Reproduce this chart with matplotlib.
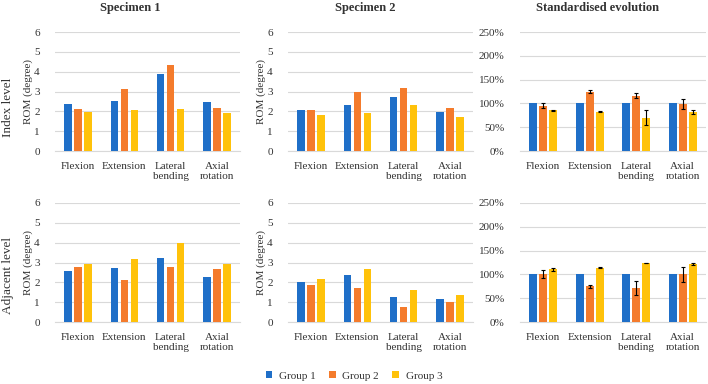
import matplotlib
matplotlib.use("Agg")
import matplotlib.pyplot as plt
import numpy as np
from matplotlib.patches import Patch
from matplotlib.ticker import FuncFormatter

plt.rcParams['font.family'] = ['Liberation Serif', 'DejaVu Serif']

categories = ["Flexion", "Extension", "Lateral\nbending", "Axial\nrotation"]
groups = ["Group 1", "Group 2", "Group 3"]
colors = ["#1F6FC8", "#F47B2C", "#FFC20A"]

# Specimen 1 - index level
s1_index_g1 = [2.35, 2.54, 3.88, 2.46]
s1_index_g2 = [2.13, 3.13, 4.34, 2.19]
s1_index_g3 = [1.98, 2.07, 2.12, 1.93]
# Specimen 2 - index level
s2_index_g1 = [2.05, 2.30, 2.70, 1.95]
s2_index_g2 = [2.05, 2.97, 3.20, 2.15]
s2_index_g3 = [1.80, 1.90, 2.30, 1.70]
# Standardised - index level
std_index_g1 = [1.00, 1.00, 1.00, 1.00]
std_index_g2 = [0.95, 1.25, 1.16, 0.99]
std_index_g3 = [0.86, 0.82, 0.70, 0.82]
err_index_g2 = [0.05, 0.03, 0.05, 0.11]
err_index_g3 = [0.01, 0.01, 0.16, 0.04]

# Specimen 1 - adjacent level
s1_adj_g1 = [2.56, 2.73, 3.23, 2.29]
s1_adj_g2 = [2.76, 2.13, 2.78, 2.68]
s1_adj_g3 = [2.91, 3.17, 3.98, 2.91]
# Specimen 2 - adjacent level
s2_adj_g1 = [2.00, 2.35, 1.25, 1.15]
s2_adj_g2 = [1.88, 1.72, 0.75, 1.00]
s2_adj_g3 = [2.15, 2.68, 1.60, 1.38]
# Standardised - adjacent level
std_adj_g1 = [1.00, 1.00, 1.00, 1.00]
std_adj_g2 = [1.01, 0.75, 0.71, 1.00]
std_adj_g3 = [1.11, 1.14, 1.24, 1.22]
err_adj_g2 = [0.08, 0.03, 0.15, 0.15]
err_adj_g3 = [0.03, 0.01, 0.01, 0.03]

titles = ["Specimen 1", "Specimen 2", "Standardised evolution"]
row_labels = ["Index level", "Adjacent level"]

W, H = 708, 384
fig = plt.figure(figsize=(W / 100, H / 100), dpi=100)

lefts = [55, 288, 520]
widths = [185, 185, 186]
tops = [32, 203]
axh = 119

data = [
    [(s1_index_g1, s1_index_g2, s1_index_g3, None),
     (s2_index_g1, s2_index_g2, s2_index_g3, None),
     (std_index_g1, std_index_g2, std_index_g3, (err_index_g2, err_index_g3))],
    [(s1_adj_g1, s1_adj_g2, s1_adj_g3, None),
     (s2_adj_g1, s2_adj_g2, s2_adj_g3, None),
     (std_adj_g1, std_adj_g2, std_adj_g3, (err_adj_g2, err_adj_g3))],
]

x = np.arange(len(categories))
step = 0.216
bw = 0.167
grid_col = "#D9D9D9"
text_col = "#333333"

for r in range(2):
    for c in range(3):
        l, w = lefts[c], widths[c]
        t = tops[r]
        ax = fig.add_axes([l / W, 1 - (t + axh) / H, w / W, axh / H])
        g1, g2, g3, errs = data[r][c]
        vals = [g1, g2, g3]
        for i in range(3):
            yerr = None
            if errs is not None and i > 0:
                yerr = errs[i - 1]
            ax.bar(x + (i - 1) * step, vals[i], width=bw, color=colors[i],
                   yerr=yerr, error_kw=dict(ecolor="black", elinewidth=0.8,
                                            capsize=1.5, capthick=0.8),
                   zorder=3)
        ax.set_xlim(-0.5, 3.5)
        if c < 2:
            ax.set_ylim(0, 6)
            ax.set_yticks(range(0, 7))
            ax.set_ylabel("ROM (degree)", fontsize=8, color=text_col, labelpad=1)
        else:
            ax.set_ylim(0, 2.5)
            ax.set_yticks(np.arange(0, 2.51, 0.5))
            ax.yaxis.set_major_formatter(FuncFormatter(lambda v, p: f"{int(round(v*100))}%"))
        ax.set_xticks(x)
        ax.set_xticklabels(categories, fontsize=8, color=text_col, linespacing=1.15)
        ax.tick_params(axis='y', labelsize=8, colors=text_col, length=0, pad=11)
        ax.tick_params(axis='x', length=0, pad=8)
        for s in ["top", "right", "left"]:
            ax.spines[s].set_visible(False)
        ax.spines["bottom"].set_color(grid_col)
        ax.spines["bottom"].set_linewidth(0.8)
        ax.grid(axis='y', color=grid_col, linewidth=0.8, zorder=0)
        ax.set_axisbelow(True)

# titles
title_x = [130, 365, 598]
for c in range(3):
    fig.text(title_x[c] / W, 1 - 8 / H, titles[c], ha="center", va="center",
             fontsize=9, fontweight="bold", color=text_col)

# row labels
fig.text(8 / W, 1 - 107 / H, row_labels[0], rotation=90, ha="center", va="center",
         fontsize=9.5, color=text_col)
fig.text(8 / W, 1 - 275 / H, row_labels[1], rotation=90, ha="center", va="center",
         fontsize=9.5, color=text_col)

handles = [Patch(facecolor=colors[i], label=groups[i]) for i in range(3)]
fig.legend(handles=handles, loc="center", bbox_to_anchor=(354 / W, 1 - 376 / H),
           ncol=3, frameon=False, fontsize=8, handlelength=0.6, handleheight=0.6,
           columnspacing=1.2, handletextpad=0.6, labelcolor=text_col)

fig.savefig("out.png", dpi=100)
